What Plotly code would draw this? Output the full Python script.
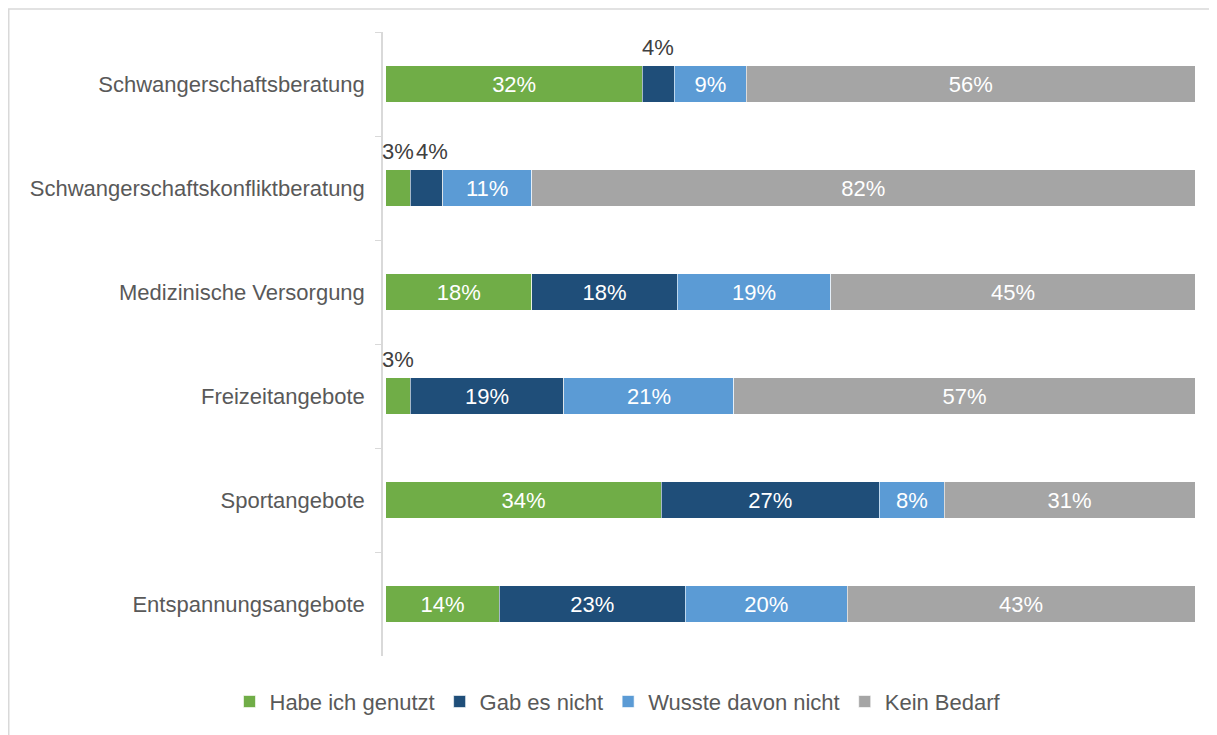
import plotly.graph_objects as go

categories = [
    "Schwangerschaftsberatung",
    "Schwangerschaftskonfliktberatung",
    "Medizinische Versorgung",
    "Freizeitangebote",
    "Sportangebote",
    "Entspannungsangebote",
]
series_names = ["Habe ich genutzt", "Gab es nicht", "Wusste davon nicht", "Kein Bedarf"]
genutzt = [32, 3, 18, 3, 34, 14]
gab_nicht = [4, 4, 18, 19, 27, 23]
wusste_nicht = [9, 11, 19, 21, 8, 20]
kein_bedarf = [56, 82, 45, 57, 31, 43]
series_values = [genutzt, gab_nicht, wusste_nicht, kein_bedarf]
colors = ["#70AD47", "#1F4E79", "#5B9BD5", "#A5A5A5"]

FONT = "Liberation Sans, Arial, sans-serif"
SMALL = 5  # values below this are labelled above the bar

# page has an 8px body margin -> figure is drawn 8px right/down
OFF = 8
W, H = 1217 - OFF, 735 - OFF
L, R, T, B = 383 - OFF, 22, 32 - OFF, 75
PW, PH = W - L - R, H - T - B

fig = go.Figure()
for name, vals, col in zip(series_names, series_values, colors):
    fig.add_trace(go.Bar(
        y=categories, x=vals, name=name, orientation="h",
        marker=dict(color=col, line=dict(color="white", width=0.6)),
        text=[f"{v}%" if v >= SMALL else "" for v in vals],
        textposition="inside", insidetextanchor="middle",
        textfont=dict(color="white", size=22, family=FONT),
        hoverinfo="skip",
    ))

# labels above the bar for small segments (positions derived from data)
annotations = []
totals = [sum(s[i] for s in series_values) for i in range(len(categories))]
for i, cat in enumerate(categories):
    cum = 0
    last_x = None
    for s in series_values:
        v = s[i]
        mid = (cum + v / 2) / totals[i] * 100
        if v < SMALL:
            xs = 0
            if last_x is not None and mid - last_x < 5:
                xs = 6
            annotations.append(dict(
                x=mid, y=cat, xref="x", yref="y", text=f"{v}%", showarrow=False,
                yshift=37, xshift=xs, font=dict(size=22, color="#404040", family=FONT),
            ))
            last_x = mid
        cum += v

fig.update_layout(
    barmode="stack", barnorm="percent", bargap=0.645,
    width=W, height=H,
    margin=dict(l=L, r=R, t=T, b=B),
    paper_bgcolor="white", plot_bgcolor="white",
    font=dict(family=FONT, size=22, color="#595959"),
    annotations=annotations,
    showlegend=True,
    legend=dict(
        orientation="h", x=(618 - OFF - L) / PW, xanchor="center",
        y=(H - B - (706 - OFF)) / PH, yanchor="middle", traceorder="normal",
        font=dict(size=22, color="#595959", family=FONT),
    ),
    shapes=[dict(
        type="rect", xref="paper", yref="paper",
        x0=(0.75 - L) / PW, x1=(W + 10 - L) / PW,
        y0=(H - B - (H + 10)) / PH, y1=(H - B - 0.75) / PH,
        line=dict(color="#D9D9D9", width=1.5), layer="below",
    )],
)
fig.update_xaxes(range=[-0.37, 100], visible=False, showgrid=False, zeroline=False)
fig.update_yaxes(
    autorange="reversed", showline=True, linecolor="#D9D9D9", linewidth=1.5,
    ticks="outside", tickson="boundaries", ticklen=6, tickcolor="#D9D9D9",
    showgrid=False, ticklabelstandoff=12,
    tickfont=dict(size=22, color="#595959", family=FONT),
)

fig.write_html("out.html")
